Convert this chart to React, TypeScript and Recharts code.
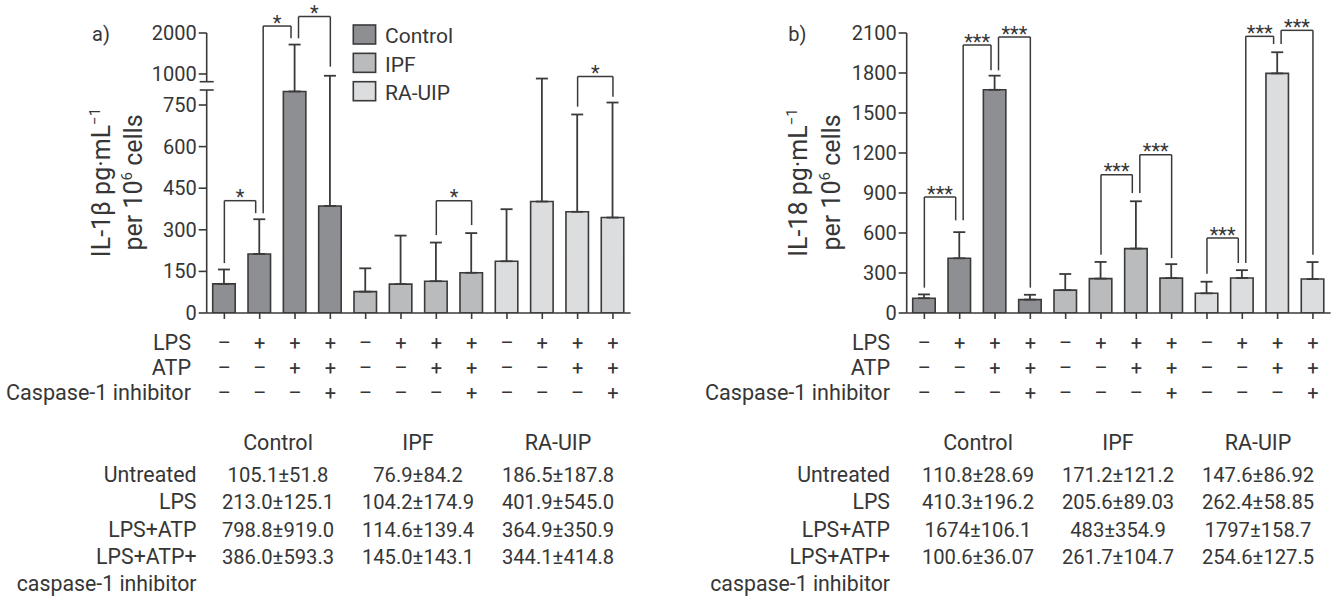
import React from "react";
import {
  BarChart,
  Bar,
  XAxis,
  YAxis,
  ErrorBar,
  Cell,
  ReferenceLine,
  ReferenceArea,
} from "recharts";

const FONT = "Roboto, 'DejaVu Sans', sans-serif";
const INK = "#363636";
const AXIS = "#3a3a3a";

const groups = ["Control", "IPF", "RA-UIP"];
const groupFills = ["#8e8f92", "#babbbd", "#dcdddf"];
const treatmentLabels = ["Untreated", "LPS", "LPS+ATP", "LPS+ATP+"];
const signRowLabels = ["LPS", "ATP", "Caspase-1 inhibitor"];
const lpsSigns = ["–", "+", "+", "+"];
const atpSigns = ["–", "–", "+", "+"];
const caspaseSigns = ["–", "–", "–", "+"];

// a) IL-1β, bar = mean, whisker = +SD
const il1bControl = [105.1, 213.0, 798.8, 386.0];
const il1bControlSd = [51.8, 125.1, 919.0, 593.3];
const il1bIpf = [76.9, 104.2, 114.6, 145.0];
const il1bIpfSd = [84.2, 174.9, 139.4, 143.1];
const il1bRaUip = [186.5, 401.9, 364.9, 344.1];
const il1bRaUipSd = [187.8, 545.0, 350.9, 414.8];
const il1bTicks = [0, 150, 300, 450, 600, 750, 1000, 2000];

// b) IL-18
const il18Control = [110.8, 410.3, 1674, 100.6];
const il18ControlSd = [28.69, 196.2, 106.1, 36.07];
const il18Ipf = [171.2, 258, 483, 261.7];
const il18IpfSd = [121.2, 125, 354.9, 104.7];
const il18RaUip = [147.6, 262.4, 1797, 254.6];
const il18RaUipSd = [86.92, 58.85, 158.7, 127.5];
const il18Ticks = [0, 300, 600, 900, 1200, 1500, 1800, 2100];

// tables under the panels
const il1bTableControl = ["105.1±51.8", "213.0±125.1", "798.8±919.0", "386.0±593.3"];
const il1bTableIpf = ["76.9±84.2", "104.2±174.9", "114.6±139.4", "145.0±143.1"];
const il1bTableRaUip = ["186.5±187.8", "401.9±545.0", "364.9±350.9", "344.1±414.8"];
const il18TableControl = ["110.8±28.69", "410.3±196.2", "1674±106.1", "100.6±36.07"];
const il18TableIpf = ["171.2±121.2", "205.6±89.03", "483±354.9", "261.7±104.7"];
const il18TableRaUip = ["147.6±86.92", "262.4±58.85", "1797±158.7", "254.6±127.5"];

// significance brackets (bar index 0-11, heights in data units)
type Bracket = { from: number; to: number; left: number; top: number; right: number; label: string };
const il1bBrackets: Bracket[] = [
  { from: 0, to: 1, left: 180, top: 405, right: 360, label: "*" },
  { from: 1, to: 2, left: 360, top: 2170, right: 1870, label: "*" },
  { from: 2, to: 3, left: 1870, top: 2400, right: 1180, label: "*" },
  { from: 6, to: 7, left: 281, top: 405, right: 317, label: "*" },
  { from: 10, to: 11, left: 744, top: 970, right: 780, label: "*" },
];
const il18Brackets: Bracket[] = [
  { from: 0, to: 1, left: 190, top: 870, right: 695, label: "***" },
  { from: 1, to: 2, left: 695, top: 2010, right: 1820, label: "***" },
  { from: 2, to: 3, left: 1820, top: 2070, right: 190, label: "***" },
  { from: 5, to: 6, left: 437, top: 1037, right: 900, label: "***" },
  { from: 6, to: 7, left: 900, top: 1187, right: 412, label: "***" },
  { from: 8, to: 9, left: 295, top: 562, right: 375, label: "***" },
  { from: 9, to: 10, left: 375, top: 2075, right: 2017, label: "***" },
  { from: 10, to: 11, left: 2017, top: 2120, right: 437, label: "***" },
];

// broken axis for IL-1β: linear up to 800, squeezed above 1000
const T1000 = 861.8;
const il1bScale = (v: number) => {
  if (v <= 800) return v;
  if (v <= 1000) return 800 + ((v - 800) * (T1000 - 800)) / 200;
  return T1000 + (v - 1000) * 0.1478;
};
const BREAK_LO = 804;
const BREAK_HI = 834;
const linear = (v: number) => v;

function buildRows(means: number[][], sds: number[][], scale: (v: number) => number) {
  const rows: any[] = [];
  means.forEach((m, g) =>
    m.forEach((v, i) => {
      rows.push({
        key: `${g}|${i}`,
        group: g,
        value: scale(v),
        err: [0, scale(v + sds[g][i]) - scale(v)],
      });
    })
  );
  return rows;
}

const SignTick = (props: any) => {
  const { x, y, payload } = props;
  const i = Number(String(payload.value).split("|")[1]);
  return (
    <g>
      {[lpsSigns, atpSigns, caspaseSigns].map((row, r) => (
        <text
          key={r}
          x={x}
          y={y + 31 + r * 24.8}
          textAnchor="middle"
          fontSize={20}
          fontFamily={FONT}
          fill={INK}
        >
          {row[i]}
        </text>
      ))}
    </g>
  );
};

type PanelProps = {
  left: number;
  letter: string;
  letterX: number;
  yLabel: string;
  yLabelX: [number, number];
  rows: any[];
  ticks: number[];
  scale: (v: number) => number;
  brackets: Bracket[];
  table: string[][];
  broken: boolean;
  legend: boolean;
  signLabelRight: number;
  tableLabelRight: number;
};

function Panel(p: PanelProps) {
  const tickVals = p.ticks.map(p.scale);
  const top = tickVals[tickVals.length - 1];
  const lineProps = { stroke: AXIS, strokeWidth: 1.6 };
  const tableCols = [278, 418, 558];

  return (
    <div style={{ position: "absolute", left: p.left, top: 0, width: 700, height: 596 }}>
      <div style={{ position: "absolute", left: 0, top: 0 }}>
        <BarChart
          width={640}
          height={410}
          data={p.rows}
          margin={{ top: 33, right: 9.4, bottom: 0, left: 0 }}
        >
          <XAxis
            dataKey="key"
            interval={0}
            height={97}
            tickSize={6}
            tickMargin={0}
            axisLine={lineProps}
            tickLine={lineProps}
            tick={(t: any) => <SignTick {...t} />}
          />
          <YAxis
            type="number"
            width={206.7}
            domain={[0, top]}
            allowDataOverflow
            ticks={tickVals}
            interval={0}
            tickSize={8}
            tickMargin={2}
            axisLine={p.broken ? false : lineProps}
            tickLine={lineProps}
            tick={{ fill: INK, fontSize: 20, fontFamily: FONT }}
            tickFormatter={(t: number) => {
              const k = tickVals.findIndex((v) => Math.abs(v - t) < 0.01);
              return k >= 0 ? String(p.ticks[k]) : "";
            }}
          />
          {p.broken && (
            <ReferenceArea
              y1={0}
              y2={BREAK_LO}
              ifOverflow="visible"
              shape={(s: any) => (
                <g>
                  <line x1={s.x} x2={s.x} y1={s.y} y2={s.y + s.height} {...lineProps} />
                  <line x1={s.x - 7} x2={s.x + 7} y1={s.y} y2={s.y} {...lineProps} />
                </g>
              )}
            />
          )}
          {p.broken && (
            <ReferenceArea
              y1={BREAK_HI}
              y2={top}
              ifOverflow="visible"
              shape={(s: any) => (
                <g>
                  <line x1={s.x} x2={s.x} y1={s.y} y2={s.y + s.height} {...lineProps} />
                  <line
                    x1={s.x - 7}
                    x2={s.x + 7}
                    y1={s.y + s.height}
                    y2={s.y + s.height}
                    {...lineProps}
                  />
                </g>
              )}
            />
          )}
          <Bar
            dataKey="value"
            barSize={22.5}
            stroke={AXIS}
            strokeWidth={1.6}
            isAnimationActive={false}
          >
            {p.rows.map((r) => (
              <Cell key={r.key} fill={groupFills[r.group]} />
            ))}
            <ErrorBar
              dataKey="err"
              direction="y"
              width={6}
              stroke={AXIS}
              strokeWidth={1.8}
              isAnimationActive={false}
            />
          </Bar>
          {p.brackets.flatMap((b, k) => {
            const dl = p.brackets.some((o) => o.to === b.from) ? 3.5 : 0;
            const dr = p.brackets.some((o) => o.from === b.to) ? -4 : 0;
            const ka = p.rows[b.from].key;
            const kb = p.rows[b.to].key;
            const st = { stroke: AXIS, strokeWidth: 1.5 };
            return [
              <ReferenceLine
                key={`l${k}`}
                segment={[{ x: ka, y: p.scale(b.left) }, { x: ka, y: p.scale(b.top) }]}
                ifOverflow="visible"
                shape={(s: any) => (
                  <line x1={s.x1 + dl} x2={s.x2 + dl} y1={s.y1} y2={s.y2} {...st} />
                )}
              />,
              <ReferenceLine
                key={`t${k}`}
                segment={[{ x: ka, y: p.scale(b.top) }, { x: kb, y: p.scale(b.top) }]}
                ifOverflow="visible"
                shape={(s: any) => (
                  <g>
                    <line x1={s.x1 + dl} x2={s.x2 + dr} y1={s.y1} y2={s.y2} {...st} />
                    <text
                      x={(s.x1 + dl + s.x2 + dr) / 2}
                      y={s.y1 + 3.5}
                      textAnchor="middle"
                      fontSize={20}
                      fontFamily={FONT}
                      fill={INK}
                    >
                      {b.label}
                    </text>
                  </g>
                )}
              />,
              <ReferenceLine
                key={`r${k}`}
                segment={[{ x: kb, y: p.scale(b.top) }, { x: kb, y: p.scale(b.right) }]}
                ifOverflow="visible"
                shape={(s: any) => (
                  <line x1={s.x1 + dr} x2={s.x2 + dr} y1={s.y1} y2={s.y2} {...st} />
                )}
              />,
            ];
          })}
        </BarChart>
      </div>

      <svg
        width={700}
        height={596}
        style={{ position: "absolute", left: 0, top: 0, pointerEvents: "none" }}
        fontFamily={FONT}
        fill={INK}
      >
        <text x={p.letterX} y={41} fontSize={20}>
          {p.letter}
        </text>
        <text transform={`translate(${p.yLabelX[0]},182.5) rotate(-90)`} textAnchor="middle" fontSize={25}>
          {p.yLabel}
          <tspan dy={-10} fontSize={15}>
            −1
          </tspan>
        </text>
        <text transform={`translate(${p.yLabelX[1]},182.5) rotate(-90)`} textAnchor="middle" fontSize={25}>
          per 10
          <tspan dy={-10} fontSize={15}>
            6
          </tspan>
          <tspan dy={10}> cells</tspan>
        </text>

        {p.legend &&
          groups.map((g, k) => (
            <g key={g}>
              <rect
                x={353.3}
                y={25 + k * 28.35}
                width={22.3}
                height={19}
                fill={groupFills[k]}
                stroke={AXIS}
                strokeWidth={1.6}
              />
              <text x={385} y={43.3 + k * 28.35} fontSize={21}>
                {g}
              </text>
            </g>
          ))}

        {signRowLabels.map((s, r) => (
          <text key={s} x={p.signLabelRight} y={350 + r * 24.8} textAnchor="end" fontSize={21.6}>
            {s}
          </text>
        ))}

        {groups.map((g, c) => (
          <text key={g} x={tableCols[c]} y={450} textAnchor="middle" fontSize={21.5}>
            {g}
          </text>
        ))}
        {treatmentLabels.map((t, r) => (
          <g key={t}>
            <text x={p.tableLabelRight} y={481.7 + r * 27.5} textAnchor="end" fontSize={21.3}>
              {t}
            </text>
            {p.table.map((col, c) => (
              <text key={c} x={tableCols[c]} y={481.7 + r * 27.5} textAnchor="middle" fontSize={20.2}>
                {col[r]}
              </text>
            ))}
          </g>
        ))}
        <text x={p.tableLabelRight} y={590.7} textAnchor="end" fontSize={21.3}>
          caspase-1 inhibitor
        </text>
      </svg>
    </div>
  );
}

export default function App() {
  const il1bRows = buildRows(
    [il1bControl, il1bIpf, il1bRaUip],
    [il1bControlSd, il1bIpfSd, il1bRaUipSd],
    il1bScale
  );
  const il18Rows = buildRows(
    [il18Control, il18Ipf, il18RaUip],
    [il18ControlSd, il18IpfSd, il18RaUipSd],
    linear
  );

  return (
    <div
      style={{
        position: "absolute",
        left: 0,
        top: 0,
        width: 1336,
        height: 596,
        background: "#fff",
        overflow: "hidden",
      }}
    >
      <Panel
        left={0}
        letter="a)"
        letterX={92}
        yLabel="IL-1β pg·mL"
        yLabelX={[110, 141.5]}
        rows={il1bRows}
        ticks={il1bTicks}
        scale={il1bScale}
        brackets={il1bBrackets}
        table={[il1bTableControl, il1bTableIpf, il1bTableRaUip]}
        broken
        legend
        signLabelRight={191}
        tableLabelRight={196.5}
      />
      <Panel
        left={700}
        letter="b)"
        letterX={88.3}
        yLabel="IL-18 pg·mL"
        yLabelX={[106.7, 140]}
        rows={il18Rows}
        ticks={il18Ticks}
        scale={linear}
        brackets={il18Brackets}
        table={[il18TableControl, il18TableIpf, il18TableRaUip]}
        broken={false}
        legend={false}
        signLabelRight={190}
        tableLabelRight={190}
      />
    </div>
  );
}
